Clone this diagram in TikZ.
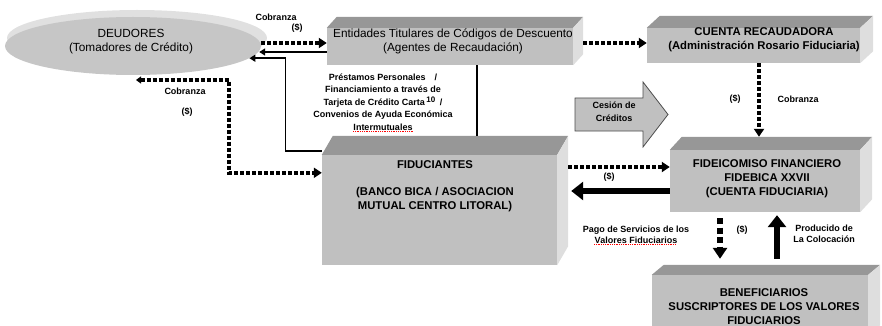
\documentclass[tikz,border=0pt]{standalone}
\usepackage{fontspec}
\setmainfont{Liberation Sans}
\usetikzlibrary{arrows.meta,calc,shapes.geometric}

\definecolor{frontgray}{HTML}{C0C0C0}
\definecolor{topgray}{HTML}{979797}
\definecolor{sidegray}{HTML}{DEDEDE}
\definecolor{ellgray}{HTML}{C6C6C6}
\definecolor{rimgray}{HTML}{E0E0E0}

\begin{document}
\begin{tikzpicture}[
x=1pt,y=-1pt,
box/.style={
	fill=frontgray,
	inner sep=0pt
},
boxtxt/.style={
	align=center,
	inner sep=0pt,
	font=\fontsize{11.8}{14}\selectfont
},
boldtxt/.style={
	boxtxt,
	font=\bfseries\fontsize{11.3}{13.8}\selectfont
},
lbl/.style={
	align=center,
	inner sep=0pt,
	font=\bfseries\fontsize{9}{12.5}\selectfont
},
dotarrow/.style={
	line width=3.5pt,
	dash pattern=on 4pt off 2pt,
	-{Triangle[length=8pt,width=10pt]}
},
dotboth/.style={
	dotarrow,
	{Triangle[length=5pt,width=7pt]}-{Triangle[length=8pt,width=10pt]}
},
dotbig/.style={
	line width=6pt,
	dash pattern=on 6pt off 3.5pt,
	-{Triangle[length=11pt,width=14pt]}
},
bigarrow/.style={
	line width=6.5pt,
	-{Triangle[length=12pt,width=18pt]}
},
thinarrow/.style={
	line width=1.8pt,
	-{Triangle[length=6pt,width=7pt]}
},
thinline/.style={
	line width=1.2pt
}
]
\useasboundingbox (0,0) rectangle (882,326);

% deudores
\fill[rimgray] (137,38) ellipse [x radius=130pt, y radius=28pt];
\node[ellipse,fill=ellgray,inner sep=0pt,minimum width=256pt,minimum height=58pt] (deu) at (133,46) {};
\coordinate (cobL) at (136,80);

% cajas
\node[box,minimum width=246pt,minimum height=37pt] (ent) at (450,46.5) {};
\node[box,minimum width=213pt,minimum height=35pt] (cta) at (753.5,45.5) {};
\node[box,minimum width=235pt,minimum height=110pt] (fidu) at (439.5,210) {};
\node[box,minimum width=190pt,minimum height=62pt] (fid) at (765,181) {};
\node[box,minimum width=216pt,minimum height=60pt] (ben) at (760,305) {};

\foreach \n/\dx/\dy in {ent/10/-11,cta/13/-12,fidu/11/-19,fid/12/-13,ben/12/-10}{
\fill[topgray] (\n.north west) -- ++(\dx,\dy) -- ([shift={(\dx,\dy)}]\n.north east) -- (\n.north east) -- cycle;
\fill[sidegray] (\n.north east) -- ++(\dx,\dy) -- ([shift={(\dx,\dy)}]\n.south east) -- (\n.south east) -- cycle;
\coordinate (\n-top) at ([shift={(\dx,\dy)}]\n.north);
\coordinate (\n-r) at ([xshift=\dx pt]\n.east);
}

\node[boxtxt] (deuT) at (131,41.5) {DEUDORES\\(Tomadores de Crédito)};
\node[boxtxt] (entT) at (453,41) {Entidades Titulares de Códigos de Descuento\\(Agentes de Recaudación)};
\node[boldtxt] (ctaT) at (764,40) {CUENTA RECAUDADORA\\(Administración Rosario Fiduciaria)};
\node[boldtxt] (fiduT) at (435,186) {FIDUCIANTES\\[13.8pt](BANCO BICA / ASOCIACION\\MUTUAL CENTRO LITORAL)};
\node[boldtxt] (fidT) at (767,178.5) {FIDEICOMISO FINANCIERO\\FIDEBICA XXVII\\(CUENTA FIDUCIARIA)};
\node[boldtxt] (benT) at (764,306.5) {BENEFICIARIOS\\SUSCRIPTORES DE LOS VALORES\\FIDUCIARIOS};

% cesion
\draw[fill=frontgray,draw=gray!60!black,line width=0.8pt] (575,98) -- (643,98) -- (643,82) -- (668,114.5) -- (643,147) -- (643,131) -- (575,131) -- cycle;
\node[lbl,font=\bfseries\fontsize{9}{13}\selectfont] (ces) at (614,111.5) {Cesión de\\Créditos};

\node[lbl] (cob1) at (276,17) {Cobranza};
\node[lbl] (pes1) at (297,28) {(\$)};
\node[lbl] (cob2) at (185,91) {Cobranza};
\node[lbl] (pes2) at (187,112) {(\$)};
\node[lbl] (prest) at (383,102) {Préstamos Personales\quad/\\Financiamiento a través de\\Tarjeta de Crédito Carta\,\raisebox{2.5pt}{\fontsize{8}{8}\selectfont 10}\enspace/\\Convenios de Ayuda Económica\\Intermutuales};
\node[lbl] (pes3) at (735,99) {(\$)};
\node[lbl] (cob3) at (798,99) {Cobranza};
\node[lbl] (pes4) at (609,177) {(\$)};
\node[lbl,font=\bfseries\fontsize{9}{10.8}\selectfont] (pago) at (636,234.5) {Pago de Servicios de los\\Valores Fiduciarios};
\node[lbl] (pes5) at (742,230) {(\$)};
\node[lbl,font=\bfseries\fontsize{9}{10.8}\selectfont] (prod) at (824,233.5) {Producido de\\La Colocación};

\draw[red,line width=0.8pt,densely dotted] (353,131) -- (413,131);
\draw[red,line width=0.8pt,densely dotted] (594,244) -- (676,244);

% flechas
\draw[dotarrow] ([yshift=3pt]deu.east) -- ([yshift=3.5pt]ent.west);
\draw[thinarrow] ([yshift=-5.5pt]ent.west) -- ([shift={(-2,6)}]deu.east);
\draw[thinarrow] ([yshift=4pt]fidu.north west) -| ($(deu.-6)+(36,0)$) -- (deu.-6);
\draw[dotboth] (cobL) -- ++(93,0) |- ([yshift=-18pt]fidu.north west);
\draw[thinline] ([xshift=27pt]ent.south) -- ([xshift=27pt]ent.south |- fidu-top);
\draw[dotarrow] ([yshift=3.5pt]ent.east -| ent-r) -- ([yshift=2.5pt]cta.west);
\draw[dotarrow] ([xshift=5.5pt]cta.south) -- ([xshift=5.5pt]cta.south |- fid-top);
\draw[dotarrow] ([yshift=14pt]fid.west -| fidu-r) -- ([yshift=14pt]fid.west);
\draw[bigarrow,shorten >=3pt] ([yshift=-10pt]fid.west) -- ([yshift=-10pt]fid.west -| fidu-r);
\draw[dotbig,shorten >=6pt] ([shift={(-45,6)}]fid.south) -- ([xshift=-45pt]fid.south |- ben-top);
\draw[bigarrow,shorten <=6pt,shorten >=3pt] ([xshift=12pt]fid.south |- ben-top) -- ([xshift=12pt]fid.south);

\end{tikzpicture}
\end{document}
